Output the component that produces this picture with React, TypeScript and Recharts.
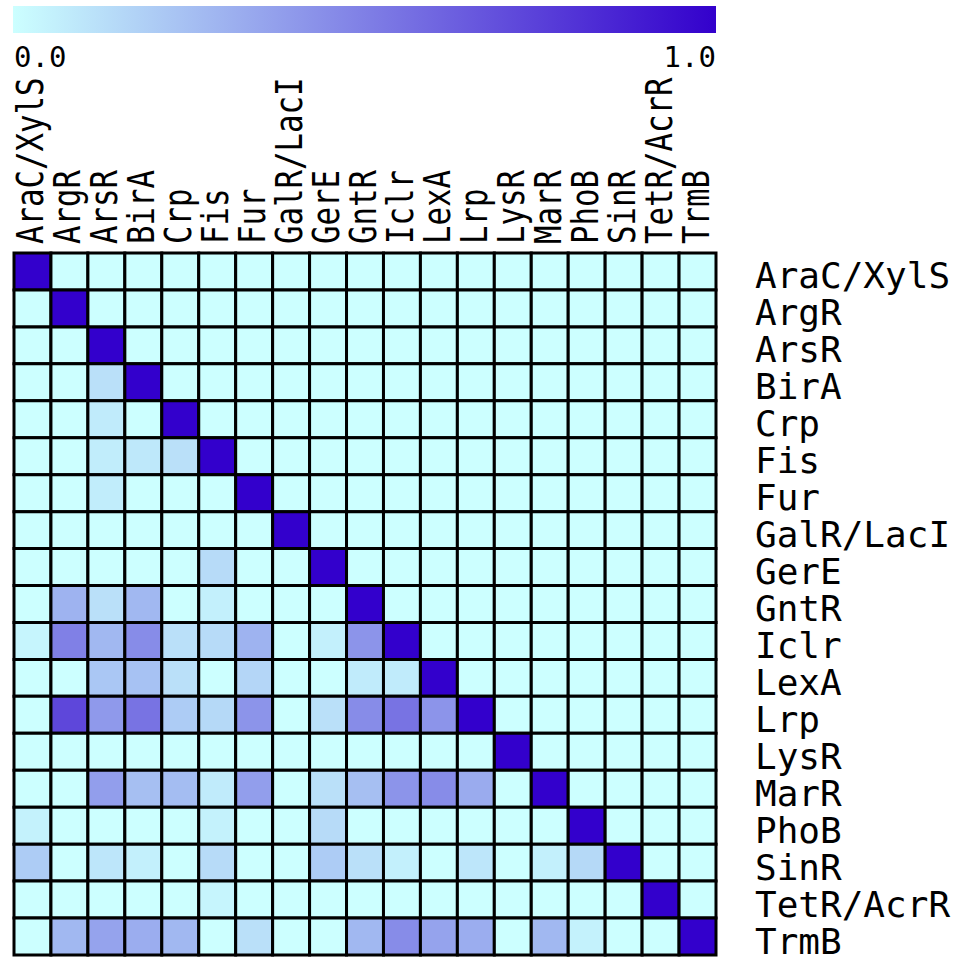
import React from 'react';
import { ScatterChart, XAxis, YAxis, ReferenceArea } from 'recharts';

// Transcription-factor families, in matrix order (rows top→bottom, columns left→right)
const regulators = [
  'AraC/XylS', 'ArgR', 'ArsR', 'BirA', 'Crp', 'Fis', 'Fur', 'GalR/LacI', 'GerE',
  'GntR', 'Iclr', 'LexA', 'Lrp', 'LysR', 'MarR', 'PhoB', 'SinR', 'TetR/AcrR', 'TrmB',
];

// Lower-triangle similarity values: entry j of row i is the (i, j) cell, j <= i.
// Cells above the diagonal are 0.
const rowAraC = [1];
const rowArgR = [0, 1];
const rowArsR = [0, 0, 1];
const rowBirA = [0, 0, 0.12, 1];
const rowCrp = [0, 0, 0.08, 0, 1];
const rowFis = [0, 0, 0.07, 0.09, 0.12, 1];
const rowFur = [0, 0, 0.07, 0, 0, 0, 1];
const rowGalR = [0, 0, 0, 0, 0, 0, 0, 1];
const rowGerE = [0, 0, 0, 0, 0, 0.14, 0, 0, 1];
const rowGntR = [0, 0.3, 0.12, 0.28, 0, 0.06, 0, 0, 0, 1];
const rowIclr = [0.04, 0.5, 0.28, 0.45, 0.12, 0.14, 0.3, 0, 0.06, 0.42, 1];
const rowLexA = [0, 0, 0.22, 0.24, 0.12, 0, 0.16, 0, 0, 0.08, 0.08, 1];
const rowLrp = [0, 0.72, 0.4, 0.55, 0.2, 0.15, 0.42, 0, 0.12, 0.45, 0.55, 0.42, 1];
const rowLysR = [0, 0, 0, 0, 0, 0, 0, 0, 0, 0, 0, 0, 0, 1];
const rowMarR = [0, 0, 0.38, 0.25, 0.26, 0.08, 0.38, 0, 0.12, 0.25, 0.42, 0.45, 0.33, 0, 1];
const rowPhoB = [0.05, 0, 0, 0, 0, 0.05, 0, 0, 0.14, 0, 0, 0, 0, 0, 0, 1];
const rowSinR = [0.2, 0, 0.1, 0.06, 0, 0.14, 0, 0, 0.2, 0.12, 0.06, 0, 0.1, 0, 0.06, 0.15, 1];
const rowTetR = [0, 0, 0, 0, 0, 0.04, 0, 0, 0, 0, 0, 0, 0, 0, 0, 0, 0, 1];
const rowTrmB = [0, 0.28, 0.36, 0.32, 0.28, 0, 0.12, 0, 0, 0.28, 0.45, 0.36, 0.32, 0, 0.28, 0.05, 0, 0, 1];

const rows = [
  rowAraC, rowArgR, rowArsR, rowBirA, rowCrp, rowFis, rowFur, rowGalR, rowGerE, rowGntR,
  rowIclr, rowLexA, rowLrp, rowLysR, rowMarR, rowPhoB, rowSinR, rowTetR, rowTrmB,
];

const colorScaleTicks = ['0.0', '1.0'];

const LOW: [number, number, number] = [204, 255, 255];
const HIGH: [number, number, number] = [51, 0, 204];

const colorFor = (v: number) => {
  const c = LOW.map((l, k) => Math.round(l + (HIGH[k] - l) * v));
  return `rgb(${c[0]},${c[1]},${c[2]})`;
};

const cells = regulators.flatMap((_, i) =>
  regulators.map((__, j) => ({ row: i, col: j, value: j <= i ? rows[i][j] : 0 }))
);

const centerTicks = regulators.map((_, i) => i + 0.5);

const W = 968;
const H = 957;
const MONO = '"DejaVu Sans Mono", monospace';

const TopTick = (props: any) => {
  const { x, payload } = props;
  const label = regulators[Math.floor(payload.value)];
  return (
    <text
      transform={`translate(${x + 11}, 244) rotate(-90) scale(0.83, 1)`}
      x={0}
      y={0}
      textAnchor="start"
      fontFamily={MONO}
      fontSize={37}
      fill="#000"
    >
      {label}
    </text>
  );
};

const RightTick = (props: any) => {
  const { y, payload } = props;
  const label = regulators[Math.floor(payload.value)];
  return (
    <text x={755} y={y + 17} textAnchor="start" fontFamily={MONO} fontSize={36} fill="#000">
      {label}
    </text>
  );
};

export default function App() {
  return (
    <div style={{ position: 'absolute', left: 0, top: 0, width: W, height: H, background: '#fff', overflow: 'hidden' }}>
      <div style={{ position: 'absolute', left: 0, top: 0 }}>
        <ScatterChart width={W} height={H} margin={{ top: 0, right: 2, bottom: 2, left: 14 }}>
          <XAxis
            type="number"
            dataKey="x"
            orientation="top"
            domain={[0, 19]}
            ticks={centerTicks}
            interval={0}
            height={253}
            tick={<TopTick />}
            tickLine={false}
            axisLine={false}
            allowDataOverflow
          />
          <YAxis
            type="number"
            dataKey="y"
            orientation="right"
            domain={[0, 19]}
            reversed
            ticks={centerTicks}
            interval={0}
            width={250}
            tick={<RightTick />}
            tickLine={false}
            axisLine={false}
            allowDataOverflow
          />
          {cells.map((c) => (
            <ReferenceArea
              key={`${c.row}-${c.col}`}
              x1={c.col}
              x2={c.col + 1}
              y1={c.row}
              y2={c.row + 1}
              fill={colorFor(c.value)}
              fillOpacity={1}
              stroke="#000"
              strokeWidth={3}
              ifOverflow="visible"
            />
          ))}
        </ScatterChart>
      </div>
      <svg width={W} height={76} style={{ position: 'absolute', left: 0, top: 0, pointerEvents: 'none' }}>
        <defs>
          <linearGradient id="simGradient" x1="0" y1="0" x2="1" y2="0">
            <stop offset="0%" stopColor={colorFor(0)} />
            <stop offset="100%" stopColor={colorFor(1)} />
          </linearGradient>
        </defs>
        <rect x={13} y={6} width={703} height={27} fill="url(#simGradient)" />
        <text x={14} y={67} fontFamily={MONO} fontSize={29} fill="#000">
          {colorScaleTicks[0]}
        </text>
        <text x={716} y={67} textAnchor="end" fontFamily={MONO} fontSize={29} fill="#000">
          {colorScaleTicks[1]}
        </text>
      </svg>
    </div>
  );
}
